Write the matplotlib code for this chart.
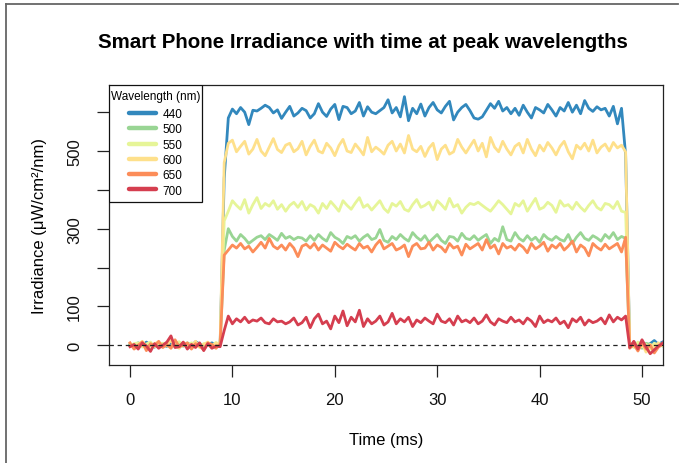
import numpy as np
import matplotlib
matplotlib.use("Agg")
import matplotlib.pyplot as plt
from matplotlib.lines import Line2D
from matplotlib.patches import Rectangle

plt.rcParams['font.family'] = ['Liberation Sans', 'DejaVu Sans']

# sampling times (ms): 0 .. 52 every 0.4 ms
time_ms = np.linspace(0, 52, 131)

wavelengths = ["440", "500", "550", "600", "650", "700"]
colors = ["#3288BD", "#99D594", "#E6F598", "#FEE08B", "#FC8D59", "#D53E4F"]

# ---- values (µW/cm²/nm) ----
pre_440 = [3, -4, 6, -2, 8, 1, -5, 4, 0, -3, 7, 2, -6, 5, 1, -2, 9, 3, -4, 2, 6, -1, 0]
pre_500 = [2, -5, 3, 6, -2, 1, -4, 5, 0, 3, -6, 2, 4, -3, 6, 1, -2, 4, -5, 2, 0, -3, 1]
pre_550 = [-2, 4, 6, -5, 3, 8, -4, 2, 5, -1, -6, 4, 9, 0, -3, 6, 2, -5, 4, 1, -2, 7, 0]
pre_600 = [5, -8, 2, 10, -3, -12, 4, 8, -5, 1, 12, -2, -8, 6, 3, -4, 10, -6, 2, 8, -3, 5, 1]
pre_650 = [6, -10, 0, 8, -14, 4, -2, 10, -6, 2, -8, 14, -4, 0, 6, -10, 4, -2, -12, 6, 2, -8, 3]
pre_700 = [-4, 2, -10, 6, -2, -16, 4, -8, 0, 8, 24, -6, -4, 8, -10, 2, -6, 6, -14, 4, -8, -2, -4]

rise_440 = [430]
rise_500 = [245]
rise_550 = [320]
rise_600 = [470]
rise_650 = [232]
rise_700 = [38]

plat_440 = [585, 608, 596, 612, 600, 568, 605, 603, 610, 618,
            612, 598, 606, 584, 600, 615, 590, 598, 610, 604,
            585, 596, 622, 600, 589, 608, 620, 581, 615, 612,
            596, 603, 625, 590, 614, 600, 596, 604, 612, 632,
            598, 612, 588, 640, 578, 610, 596, 621, 590, 612,
            625, 606, 598, 615, 628, 580, 600, 612, 620, 604,
            585, 582, 588, 605, 622, 610, 628, 603, 612, 596,
            610, 592, 618, 600, 585, 612, 606, 598, 620, 606,
            590, 612, 603, 625, 600, 618, 596, 630, 610, 602,
            614, 606, 610, 590, 615, 570, 610, 490]
plat_500 = [300, 280, 268, 285, 275, 262, 270, 278, 282, 272,
            285, 278, 270, 288, 275, 280, 272, 278, 276, 268,
            282, 270, 285, 275, 268, 290, 278, 272, 262, 280,
            275, 282, 268, 278, 285, 272, 276, 298, 270, 265,
            280, 272, 285, 275, 268, 290, 278, 270, 282, 265,
            275, 285, 270, 262, 280, 278, 268, 288, 275, 272,
            282, 270, 278, 285, 262, 275, 268, 305, 272, 268,
            290, 275, 268, 282, 270, 278, 265, 285, 275, 270,
            280, 272, 268, 285, 262, 278, 290, 275, 270, 282,
            276, 268, 285, 275, 290, 272, 280, 275]
plat_550 = [345, 372, 360, 350, 375, 340, 362, 380, 352, 365,
            358, 372, 350, 362, 345, 360, 368, 355, 370, 348,
            362, 356, 340, 365, 352, 370, 358, 345, 372, 360,
            350, 366, 380, 355, 362, 348, 360, 372, 352, 342,
            365, 358, 370, 350, 345, 362, 375, 355, 360, 368,
            348, 372, 362, 350, 378, 356, 362, 340, 355, 365,
            362, 368, 360, 352, 345, 358, 372, 362, 350, 338,
            365, 358, 372, 345, 362, 378, 350, 355, 368, 360,
            342, 372, 358, 362, 350, 368, 355, 345, 360, 372,
            355, 348, 365, 362, 352, 370, 345, 342]
plat_600 = [520, 528, 498, 512, 525, 492, 505, 530, 500, 488,
            510, 532, 504, 496, 515, 520, 498, 506, 525, 490,
            512, 528, 500, 495, 520, 508, 488, 514, 530, 500,
            496, 518, 505, 490, 535, 498, 510, 502, 492, 515,
            525, 500, 518, 495, 540, 505, 498, 512, 486, 508,
            520, 478, 505, 515, 492, 498, 530, 510, 495, 512,
            528, 500, 520, 485, 535, 510, 498, 525, 505, 490,
            512, 520, 495, 530, 505, 488, 515, 500, 522, 508,
            490, 512, 525, 498, 480, 515, 505, 520, 500, 528,
            495, 510, 518, 500, 522, 508, 515, 498]
plat_650 = [245, 258, 250, 262, 248, 255, 240, 252, 265, 250,
            275, 255, 248, 258, 245, 262, 250, 228, 255, 260,
            250, 262, 245, 258, 250, 242, 265, 255, 248, 260,
            252, 245, 262, 250, 255, 240, 258, 270, 248, 255,
            262, 245, 250, 258, 228, 255, 262, 248, 250, 265,
            245, 258, 252, 240, 262, 250, 255, 232, 260, 248,
            255, 262, 245, 272, 250, 258, 235, 262, 250, 255,
            245, 260, 252, 238, 262, 248, 255, 265, 242, 258,
            250, 262, 245, 255, 268, 240, 258, 250, 230, 262,
            252, 245, 260, 248, 255, 262, 240, 278]
plat_700 = [75, 55, 68, 60, 72, 58, 65, 62, 70, 58,
            55, 68, 60, 62, 55, 60, 70, 52, 58, 72,
            45, 68, 80, 55, 62, 42, 75, 58, 88, 50,
            72, 60, 90, 48, 68, 55, 62, 75, 52, 60,
            82, 55, 68, 60, 72, 48, 65, 58, 70, 62,
            55, 80, 62, 58, 68, 52, 75, 60, 65, 58,
            70, 55, 62, 78, 60, 52, 68, 62, 58, 72,
            60, 65, 55, 70, 62, 48, 75, 58, 65, 60,
            70, 55, 62, 45, 68, 60, 72, 52, 65, 58,
            62, 70, 55, 78, 60, 72, 65, 75]

post_440 = [-5, 8, -2, 10, -8, 4, 12, 2, 8]
post_500 = [-4, 6, 0, -8, 5, 2, -6, 4, -2]
post_550 = [3, -6, 8, -4, 2, -10, 5, 0, 3]
post_600 = [-2, 5, -12, 4, -18, 2, -5, 6, 0]
post_650 = [-8, 2, -15, 6, -10, 0, -20, -5, 2]
post_700 = [-6, 10, -10, 14, -5, -22, -12, -2, 5]

series = {
    "440": pre_440 + rise_440 + plat_440 + post_440,
    "500": pre_500 + rise_500 + plat_500 + post_500,
    "550": pre_550 + rise_550 + plat_550 + post_550,
    "600": pre_600 + rise_600 + plat_600 + post_600,
    "650": pre_650 + rise_650 + plat_650 + post_650,
    "700": pre_700 + rise_700 + plat_700 + post_700,
}

x_ticks = [0, 10, 20, 30, 40, 50]
y_ticks = [0, 100, 200, 300, 400, 500, 600]
y_ticklabels = ["0", "100", "", "300", "", "500", ""]

W, H = 689, 464
AX_L, AX_R, AX_T, AX_B = 109, 663, 86, 366
fig = plt.figure(figsize=(W / 100, H / 100), dpi=100)
ax = fig.add_axes([AX_L / W, 1 - AX_B / H, (AX_R - AX_L) / W, (AX_B - AX_T) / H])

for wl, c in zip(wavelengths, colors):
    ax.plot(time_ms, series[wl], color=c, lw=2.0, solid_joinstyle='round', label=wl, zorder=3)

ax.axhline(0, color='#222222', lw=0.9, dashes=(3.5, 3), zorder=4)

ax.set_xlim(-2.05, 52.05)
ax.set_ylim(-51, 670)
ax.set_xticks(x_ticks)
ax.set_yticks(y_ticks)
ax.set_yticklabels(y_ticklabels, rotation=90, va='center')
ax.tick_params(axis='both', direction='out', length=8.5, width=0.9, color='#222222',
               labelsize=12, labelcolor='#111111')
ax.tick_params(axis='x', pad=11)
ax.tick_params(axis='y', pad=11)
for s in ax.spines.values():
    s.set_linewidth(0.9)
    s.set_color('#222222')

ax.set_xlabel("Time (ms)", fontsize=12, labelpad=18)
ax.set_ylabel("Irradiance (μW/cm²/nm)", fontsize=12, labelpad=14)

fig.text(363 / W, 1 - 43 / H, "Smart Phone Irradiance with time at peak wavelengths",
         ha='center', va='center', fontsize=14.8, fontweight='bold')

# legend box (frame drawn as a patch so its size matches the reference)
aw, ah = AX_R - AX_L, AX_B - AX_T
ax.add_patch(Rectangle((0, 1 - (203 - AX_T) / ah), (202 - AX_L) / aw, (203 - AX_T) / ah,
                       transform=ax.transAxes, facecolor='white', edgecolor='#111111',
                       lw=0.9, zorder=5))
handles = [Line2D([0], [0], color=c, lw=3.2, solid_capstyle='round') for c in colors]
leg = ax.legend(handles, wavelengths, title="Wavelength (nm)", loc='upper left',
                bbox_to_anchor=(-4.5 / aw, 1 + 1.0 / ah), borderaxespad=0, frameon=False,
                fontsize=8.5, title_fontsize=8.5, handlelength=2.3, handletextpad=0.55,
                labelspacing=0.28, borderpad=0.55, alignment='center')
leg._legend_box.sep = 4.0
leg.set_zorder(6)

# outer frame lines (left and top)
fig.add_artist(Line2D([6 / W, 6 / W], [0, 1 - 5 / H], transform=fig.transFigure,
                      color='#666666', lw=1.3))
fig.add_artist(Line2D([6 / W, 678 / W], [1 - 5 / H, 1 - 5 / H], transform=fig.transFigure,
                      color='#666666', lw=1.3))

fig.savefig("out.png", dpi=100)
